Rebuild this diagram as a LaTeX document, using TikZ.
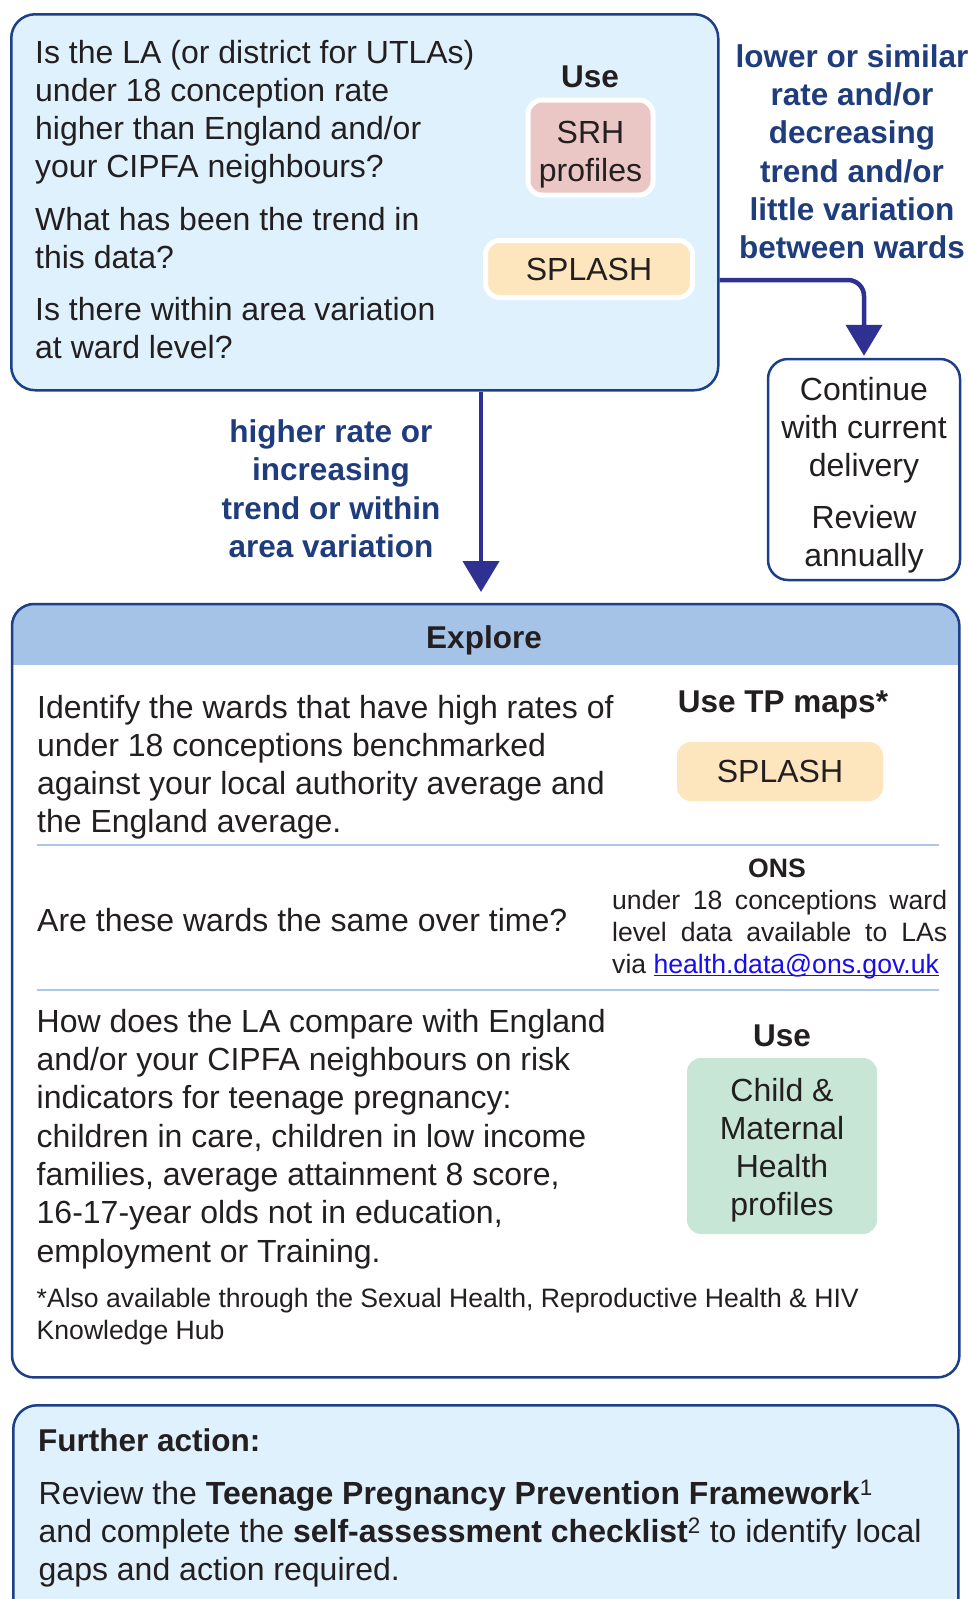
\documentclass[tikz,border=0pt]{standalone}
\usepackage{fontspec}
\setmainfont{Liberation Sans}
\usetikzlibrary{arrows.meta}

\definecolor{navy}{HTML}{1C3F8A}
\definecolor{arrowblue}{HTML}{2E3192}
\definecolor{labelblue}{HTML}{1F3D7C}
\definecolor{paleblue}{HTML}{DFF1FC}
\definecolor{headblue}{HTML}{A4C3E6}
\definecolor{ruleblue}{HTML}{A9C8EA}
\definecolor{srhpink}{HTML}{EAC7C5}
\definecolor{splashtan}{HTML}{FDE6BD}
\definecolor{chmgreen}{HTML}{C8E6D5}
\definecolor{ink}{HTML}{231F20}
\definecolor{linkblue}{HTML}{1A0DEB}

% underlined e-mail address with the rule just under the baseline
\newcommand\maillink[1]{\setbox0\hbox{#1}\rlap{\rule[-3pt]{\wd0}{1.4pt}}\box0}
% invisible rule that pushes a centred text block down inside its box
\newcommand\lift[1]{\rule{0pt}{#1}}

\tikzset{
  panel/.style={draw=navy, line width=2.5pt, fill=paleblue, rounded corners=24pt,
    inner sep=0pt, anchor=north west},
  body/.style={inner sep=0pt, text=ink, font=\fontsize{32}{38.2}\selectfont,
    align=left, anchor=north west},
  small/.style={inner sep=0pt, text=ink, font=\fontsize{26.6}{32}\selectfont},
  head/.style={inner sep=0pt, text=ink, font=\bfseries\fontsize{31.5}{38}\selectfont, anchor=base},
  lbl/.style={inner sep=0pt, text=labelblue, font=\bfseries\fontsize{31.5}{38.3}\selectfont,
    align=center, anchor=north},
  tag/.style={inner sep=0pt, text=ink, font=\fontsize{32}{38}\selectfont, align=center,
    rounded corners=14pt},
  arr/.style={draw=arrowblue, line width=4.5pt, -{Triangle[length=31pt, width=36pt]}},
  sep/.style={draw=ruleblue, line width=2.5pt}
}

\begin{document}
\begin{tikzpicture}[x=1pt, y=-1pt]
\useasboundingbox (0,0) rectangle (967,1599);

% ---------- first question ----------
\node[panel, minimum width=707pt, minimum height=376pt] (q1) at (10,13) {};
\node[body] (q1a) at (35,36.3) {\strut Is the LA (or district for UTLAs)\\under 18 conception rate\\higher than England and/or\\your CIPFA neighbours?};
\node[body] (q1b) at (35,203.3) {\strut What has been the trend in\\this data?};
\node[body] (q1c) at (35,293.3) {\strut Is there within area variation\\at ward level?};
\node[head] (use1) at (590,87) {Use};
\node[tag, fill=srhpink, draw=white, line width=5pt, minimum width=125pt, minimum height=95pt] (srh) at (590.5,147.5) {\lift{36pt}SRH\\profiles};
\node[tag, fill=splashtan, draw=white, line width=5pt, minimum width=207pt, minimum height=57pt] (splash1) at (589,269) {SPLASH};

% ---------- no-concern branch ----------
\node[lbl] (lowlbl) at (852,40.2) {\strut lower or similar\\rate and/or\\decreasing\\trend and/or\\little variation\\between wards};
\node[draw=navy, line width=2.5pt, fill=white, rounded corners=20pt, inner sep=0pt,
      minimum width=192pt, minimum height=221pt, text=ink, align=center,
      font=\fontsize{32}{38}\selectfont] (cont) at (864,469.5)
  {\lift{35pt}Continue\\with current\\delivery\\[14pt]Review\\annually};
\coordinate (branch) at (0,280);
\draw[arr, rounded corners=16pt, shorten >=2pt] (q1.east |- branch) -| (cont.north);

% ---------- concern branch ----------
\node[lbl] (highlbl) at (331,415.5) {\strut higher rate or\\increasing\\trend or within\\area variation};

% ---------- explore panel ----------
\node[fill=white, inner sep=0pt, rounded corners=22pt, anchor=north west,
      minimum width=947pt, minimum height=773pt] (explore) at (12,604) {};
\coordinate (bandfoot) at (0,665);
\begin{scope}
  \clip[rounded corners=22pt] (explore.south west) rectangle (explore.north east);
  \fill[headblue] (explore.north west) rectangle (explore.east |- bandfoot);
\end{scope}
\draw[navy, line width=2.5pt, rounded corners=22pt] (explore.south west) rectangle (explore.north east);
\coordinate (split) at (481,0);
\draw[arr, shorten >=12pt] (q1.south -| split) -- (explore.north -| split);

\node[head] (exptitle) at (484,648) {Explore};

\node[body] (e1) at (37,691.3) {\strut Identify the wards that have high rates of\\under 18 conceptions benchmarked\\against your local authority average and\\the England average.};
\node[head] (tpmaps) at (783,712) {Use TP maps*};
\node[tag, fill=splashtan, minimum width=206pt, minimum height=59pt] (splash2) at (780,771.5) {SPLASH};

\coordinate (r1a) at (37,845); \coordinate (r1b) at (939,845);
\draw[sep] (r1a) -- (r1b);

\node[body, anchor=base west] (e2) at (37,931) {Are these wards the same over time?};
\node[head, font=\bfseries\fontsize{26.6}{32}\selectfont] (ons) at (777,877) {ONS};
\node[small, text width=335pt, align=justify, anchor=north west] (onsdata) at (612,886.6)
  {\strut under 18 conceptions ward\linebreak level data available to LAs\linebreak via \textcolor{linkblue}{\maillink{health.data@ons.gov.uk}}};

\coordinate (r2a) at (37,990); \coordinate (r2b) at (939,990);
\draw[sep] (r2a) -- (r2b);

\node[body, font=\fontsize{32}{38.3}\selectfont] (e3) at (36.5,1005.2) {\strut How does the LA compare with England\\and/or your CIPFA neighbours on risk\\indicators for teenage pregnancy:\\children in care, children in low income\\families, average attainment 8 score,\\16-17-year olds not in education,\\employment or Training.};
\node[head] (use2) at (782,1046) {Use};
\node[tag, fill=chmgreen, minimum width=190pt, minimum height=176pt] (chm) at (782,1146) {\lift{31pt}Child \&\\Maternal\\Health\\profiles};

\node[small, align=left, anchor=north west] (foot) at (36.5,1284.6) {\strut *Also available through the Sexual Health, Reproductive Health \& HIV\\Knowledge Hub};

% ---------- further action ----------
\node[panel, minimum width=945pt, minimum height=260pt] (further) at (12,1404) {};
\node[head, anchor=base west] (fatitle) at (38,1451) {Further action:};
\node[body] (fatext) at (38.5,1477.3) {\strut Review the \textbf{Teenage Pregnancy Prevention Framework}\textsuperscript{1}\\and complete the \textbf{self-assessment checklist}\textsuperscript{2} to identify local\\gaps and action required.};
\end{tikzpicture}
\end{document}
